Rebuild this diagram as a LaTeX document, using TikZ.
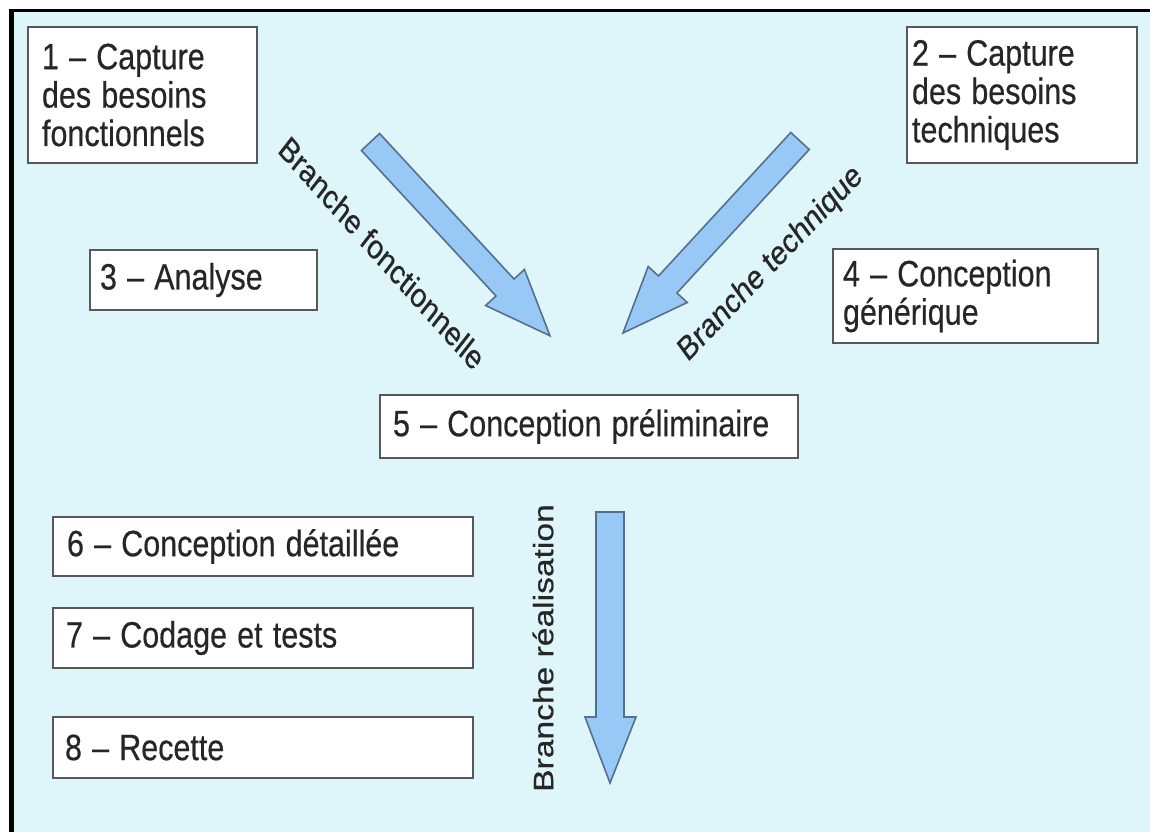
\documentclass[tikz,border=0pt]{standalone}
\usepackage{fontspec}
\setmainfont{Liberation Sans}
\newfontfamily\heavy[FakeBold=0.5]{Liberation Sans}
\definecolor{sky}{RGB}{222,245,250}
\definecolor{boxline}{RGB}{88,88,88}
\definecolor{ink}{RGB}{38,38,38}
\definecolor{arrowfill}{RGB}{152,200,245}
\definecolor{arrowline}{RGB}{85,112,140}
\tikzset{
  box/.style={draw=boxline, line width=2pt, fill=white, text=ink,
    align=left, inner ysep=2pt, yscale=1.2,
    font=\heavy\fontsize{30.5}{32}\selectfont},
  lbl/.style={text=ink, inner sep=0pt, font=\heavy\fontsize{28}{30}\selectfont},
  blockarrow/.style={fill=arrowfill, draw=arrowline, line width=1.6pt, line join=miter}
}
\begin{document}
\begin{tikzpicture}[x=1pt,y=-1pt]
\useasboundingbox (0,0) rectangle (1150,832);
% frame and background
\fill[white] (0,0) rectangle (1150,832);
\fill[sky] (14,12) rectangle (1150,832);
\fill[black] (9,9) rectangle (1150,12);
\fill[black] (9,9) rectangle (14,832);

% phase boxes
\node[box, minimum width=229pt, minimum height=113pt, text width=201pt, inner xsep=14pt]
  (b1) at (142.5,95) {1 – Capture\\des besoins\\fonctionnels};
\node[box, minimum width=230pt, minimum height=113pt, text width=220pt, inner xsep=5pt]
  (b2) at (1022,95) {2 – Capture\\des besoins\\techniques};
\node[box, minimum width=227pt, minimum height=50pt, text width=207pt, inner xsep=10pt]
  (b3) at (203.5,280) {3 – Analyse};
\node[box, minimum width=265pt, minimum height=78pt, text width=245pt, inner xsep=10pt]
  (b4) at (965.5,296) {4 – Conception\\générique};
\node[box, minimum width=418pt, minimum height=52.5pt, text width=392pt, inner xsep=13pt]
  (b5) at (589,426.5) {5 – Conception préliminaire};
\node[box, minimum width=420pt, minimum height=49pt, text width=392pt, inner xsep=14pt]
  (b6) at (263,546.5) {6 – Conception détaillée};
\node[box, minimum width=420pt, minimum height=50pt, text width=394pt, inner xsep=13pt]
  (b7) at (263,638) {7 – Codage et tests};
\node[box, minimum width=420pt, minimum height=51pt, text width=396pt, inner xsep=12pt]
  (b8) at (263,747.5) {8 – Recette};

% block arrows of the three branches
\draw[blockarrow] (379.6,133.5) -- (514,279) -- (524.4,269.5) -- (550,335.8)
  -- (485.6,305.5) -- (496,296) -- (361.4,150.5) -- cycle;
\draw[blockarrow] (790.8,132.5) -- (658.5,276) -- (648.2,266.5) -- (623,333)
  -- (687.2,302.5) -- (676.9,293) -- (809.2,149.5) -- cycle;
\draw[blockarrow] (596,512) -- (596,717) -- (585,717) -- (610,783)
  -- (636,717) -- (624,717) -- (624,512) -- cycle;

% branch labels
\node[lbl, yscale=1.2, rotate=-43] (lf) at (382,253) {Branche fonctionnelle};
\node[lbl, yscale=1.2, rotate=41] (lt) at (771,264) {Branche technique};
\node[lbl, yscale=1.2, rotate=90] (lr) at (543,648) {Branche réalisation};
\end{tikzpicture}
\end{document}
